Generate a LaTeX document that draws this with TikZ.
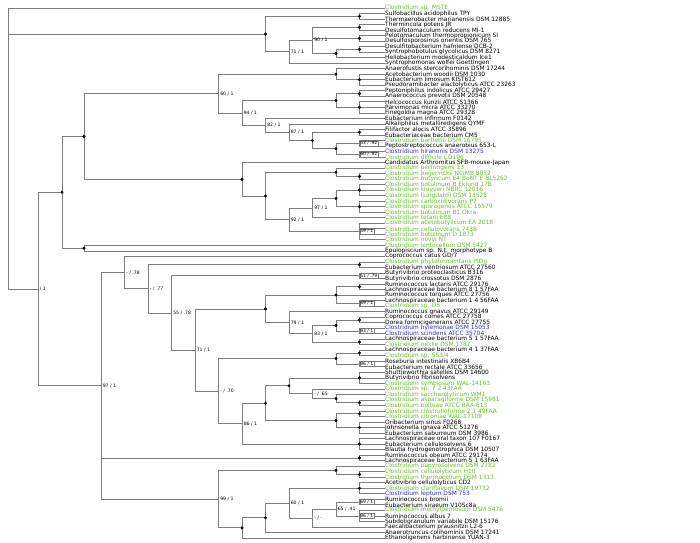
\documentclass[tikz,border=0pt]{standalone}
\usepackage{fontspec}
\setmainfont{DejaVu Sans}
\definecolor{clgreen}{RGB}{100,190,40}
\definecolor{clblue}{RGB}{45,45,200}
\definecolor{brgray}{RGB}{125,125,125}
\begin{document}
\begin{tikzpicture}[x=1pt,y=-1pt,
  lf/.style={anchor=west,inner sep=0pt,font=\fontsize{5.9}{6}\selectfont},
  g/.style={lf,text=clgreen},
  b/.style={lf,text=clblue},
  br/.style={draw=brgray,line width=0.7pt},
  dot/.style={circle,fill=black,inner sep=0pt,minimum size=3.4pt},
  sup/.style={anchor=west,inner sep=0pt,xshift=1.6pt,font=\fontsize{4.6}{5}\selectfont},
  bx/.style={anchor=west,draw=brgray,fill=white,line width=0.4pt,inner sep=0.7pt,font=\fontsize{4.4}{5}\selectfont}]
\useasboundingbox (0,0) rectangle (700,542);
% leaves
\node[g] (l1) at (385,8.00) {Clostridium sp. MSTE};
\node[lf] (l2) at (385,13.52) {Sulfobacillus acidophilus TPY};
\node[lf] (l3) at (385,19.04) {Thermaerobacter marianensis DSM 12885};
\node[lf] (l4) at (385,24.56) {Thermincola potens JR};
\node[lf] (l5) at (385,30.08) {Desulfotomaculum reducens MI-1};
\node[lf] (l6) at (385,35.60) {Pelotomaculum thermopropionicum SI};
\node[lf] (l7) at (385,41.12) {Desulfosporosinus orientis DSM 765};
\node[lf] (l8) at (385,46.64) {Desulfitobacterium hafniense DCB-2};
\node[lf] (l9) at (385,52.16) {Syntrophobotulus glycolicus DSM 8271};
\node[lf] (l10) at (385,57.68) {Heliobacterium modesticaldum Ice1};
\node[lf] (l11) at (385,63.20) {Syntrophomonas wolfei Goettingen};
\node[lf] (l12) at (385,68.72) {Anaerofustis stercorihominis DSM 17244};
\node[lf] (l13) at (385,74.24) {Acetobacterium woodii DSM 1030};
\node[lf] (l14) at (385,79.76) {Eubacterium limosum KIST612};
\node[lf] (l15) at (385,85.28) {Pseudoramibacter alactolyticus ATCC 23263};
\node[lf] (l16) at (385,90.80) {Peptoniphilus indolicus ATCC 29427};
\node[lf] (l17) at (385,96.32) {Anaerococcus prevotii DSM 20548};
\node[lf] (l18) at (385,101.84) {Helcococcus kunzii ATCC 51366};
\node[lf] (l19) at (385,107.36) {Parvimonas micra ATCC 33270};
\node[lf] (l20) at (385,112.88) {Finegoldia magna ATCC 29328};
\node[lf] (l21) at (385,118.40) {Eubacterium infirmum F0142};
\node[lf] (l22) at (385,123.92) {Alkaliphilus metalliredigens QYMF};
\node[lf] (l23) at (385,129.44) {Filifactor alocis ATCC 35896};
\node[lf] (l24) at (385,134.96) {Eubacteriaceae bacterium CM5};
\node[g] (l25) at (385,140.48) {Clostridium bartlettii DSM 16795};
\node[lf] (l26) at (385,146.00) {Peptostreptococcus anaerobius 653-L};
\node[b] (l27) at (385,151.52) {Clostridium hiranonis DSM 13275};
\node[g] (l28) at (385,157.04) {Clostridium difficile CD196};
\node[lf] (l29) at (385,162.56) {Candidatus Arthromitus SFB-mouse-Japan};
\node[g] (l30) at (385,168.08) {Clostridium perfringens 13};
\node[g] (l31) at (385,173.60) {Clostridium beijerinckii NCIMB 8052};
\node[g] (l32) at (385,179.12) {Clostridium butyricum E4 BoNT E BL5262};
\node[g] (l33) at (385,184.64) {Clostridium botulinum B Eklund 17B};
\node[g] (l34) at (385,190.16) {Clostridium kluyveri NBRC 12016};
\node[g] (l35) at (385,195.68) {Clostridium ljungdahlii DSM 13528};
\node[g] (l36) at (385,201.20) {Clostridium carboxidivorans P7};
\node[g] (l37) at (385,206.72) {Clostridium sporogenes ATCC 15579};
\node[g] (l38) at (385,212.24) {Clostridium botulinum B1 Okra};
\node[g] (l39) at (385,217.76) {Clostridium tetani E88};
\node[g] (l40) at (385,223.28) {Clostridium acetobutylicum EA 2018};
\node[g] (l41) at (385,228.80) {Clostridium cellulovorans 743B};
\node[g] (l42) at (385,234.32) {Clostridium botulinum D 1873};
\node[g] (l43) at (385,239.84) {Clostridium novyi NT};
\node[g] (l44) at (385,245.36) {Clostridium lentocellum DSM 5427};
\node[lf] (l45) at (385,250.88) {Epulopiscium sp. N.t. morphotype B};
\node[lf] (l46) at (385,256.40) {Coprococcus catus GD/7};
\node[g] (l47) at (385,261.92) {Clostridium phytofermentans ISDg};
\node[lf] (l48) at (385,267.44) {Eubacterium ventriosum ATCC 27560};
\node[lf] (l49) at (385,272.96) {Butyrivibrio proteoclasticus B316};
\node[lf] (l50) at (385,278.48) {Butyrivibrio crossotus DSM 2876};
\node[lf] (l51) at (385,284.00) {Ruminococcus lactaris ATCC 29176};
\node[lf] (l52) at (385,289.52) {Lachnospiraceae bacterium 8 1 57FAA};
\node[lf] (l53) at (385,295.04) {Ruminococcus torques ATCC 27756};
\node[lf] (l54) at (385,300.56) {Lachnospiraceae bacterium 1 4 56FAA};
\node[g] (l55) at (385,306.08) {Clostridium sp. D5};
\node[lf] (l56) at (385,311.60) {Ruminococcus gnavus ATCC 29149};
\node[lf] (l57) at (385,317.12) {Coprococcus comes ATCC 27758};
\node[lf] (l58) at (385,322.64) {Dorea formicigenerans ATCC 27755};
\node[b] (l59) at (385,328.16) {Clostridium hylemonae DSM 15053};
\node[b] (l60) at (385,333.68) {Clostridium scindens ATCC 35704};
\node[lf] (l61) at (385,339.20) {Lachnospiraceae bacterium 5 1 57FAA};
\node[g] (l62) at (385,344.72) {Clostridium nexile DSM 1787};
\node[lf] (l63) at (385,350.24) {Lachnospiraceae bacterium 4 1 37FAA};
\node[g] (l64) at (385,355.76) {Clostridium sp. SS3/4};
\node[lf] (l65) at (385,361.28) {Roseburia intestinalis XB6B4};
\node[lf] (l66) at (385,366.80) {Eubacterium rectale ATCC 33656};
\node[lf] (l67) at (385,372.32) {Shuttleworthia satelles DSM 14600};
\node[lf] (l68) at (385,377.84) {Butyrivibrio fibrisolvens};
\node[g] (l69) at (385,383.36) {Clostridium symbiosum WAL-14163};
\node[g] (l70) at (385,388.88) {Clostridium sp. 7 2 43FAA};
\node[g] (l71) at (385,394.40) {Clostridium saccharolyticum WM1};
\node[g] (l72) at (385,399.92) {Clostridium asparagiforme DSM 15981};
\node[g] (l73) at (385,405.44) {Clostridium bolteae ATCC BAA-613};
\node[g] (l74) at (385,410.96) {Clostridium clostridioforme 2 1 49FAA};
\node[g] (l75) at (385,416.48) {Clostridium citroniae WAL-17108};
\node[lf] (l76) at (385,422.00) {Oribacterium sinus F0268};
\node[lf] (l77) at (385,427.52) {Johnsonella ignava ATCC 51276};
\node[lf] (l78) at (385,433.04) {Eubacterium saburreum DSM 3986};
\node[lf] (l79) at (385,438.56) {Lachnospiraceae oral taxon 107 F0167};
\node[lf] (l80) at (385,444.08) {Eubacterium cellulosolvens 6};
\node[lf] (l81) at (385,449.60) {Blautia hydrogenotrophica DSM 10507};
\node[lf] (l82) at (385,455.12) {Ruminococcus obeum ATCC 29174};
\node[lf] (l83) at (385,460.64) {Lachnospiraceae bacterium 5 1 63FAA};
\node[g] (l84) at (385,466.16) {Clostridium papyrosolvens DSM 2782};
\node[g] (l85) at (385,471.68) {Clostridium cellulolyticum H10};
\node[g] (l86) at (385,477.20) {Clostridium thermocellum DSM 1313};
\node[lf] (l87) at (385,482.72) {Acetivibrio cellulolyticus CD2};
\node[g] (l88) at (385,488.24) {Clostridium clariflavum DSM 19732};
\node[b] (l89) at (385,493.76) {Clostridium leptum DSM 753};
\node[lf] (l90) at (385,499.28) {Ruminococcus bromii};
\node[lf] (l91) at (385,504.80) {Eubacterium siraeum V10Sc8a};
\node[g] (l92) at (385,510.32) {Clostridium methylpentosum DSM 5476};
\node[lf] (l93) at (385,515.84) {Ruminococcus albus 7};
\node[lf] (l94) at (385,521.36) {Subdoligranulum variabile DSM 15176};
\node[lf] (l95) at (385,526.88) {Faecalibacterium prausnitzii L2-6};
\node[lf] (l96) at (385,532.40) {Anaerotruncus colihominis DSM 17241};
\node[lf] (l97) at (385,537.92) {Ethanoligenens harbinense YUAN-3};
% inner nodes
\coordinate (root) at (8,148.53);
\coordinate (c23) at (359.5,16.28);
\coordinate (c45) at (359.5,27.32);
\coordinate (c67) at (359.5,38.36);
\coordinate (c89) at (359.5,49.40);
\coordinate (d2) at (336,53.54);
\coordinate (n90) at (312.5,40.43);
\coordinate (n71) at (289,51.82);
\coordinate (p1) at (265.5,34.05);
\coordinate (t13) at (359.5,79.76);
\coordinate (d73) at (336,74.24);
\coordinate (c16) at (359.5,93.56);
\coordinate (t18) at (359.5,107.36);
\coordinate (d97) at (336,100.46);
\coordinate (c23b) at (359.5,132.20);
\coordinate (b53) at (359.5,143.24);
\coordinate (b60) at (359.5,154.28);
\coordinate (d146) at (336,148.76);
\coordinate (d139) at (312.5,140.48);
\coordinate (n87) at (289,132.20);
\coordinate (n82) at (265.5,125.30);
\coordinate (n94) at (242,112.88);
\coordinate (n60a) at (218.5,93.56);
\coordinate (c31) at (359.5,176.36);
\coordinate (d172) at (336,172.22);
\coordinate (t33) at (359.5,190.16);
\coordinate (t36) at (359.5,206.72);
\coordinate (d201) at (336,198.44);
\coordinate (n97a) at (312.5,208.10);
\coordinate (b59) at (359.5,231.56);
\coordinate (n92) at (289,219.83);
\coordinate (d195) at (265.5,196.03);
\coordinate (a6) at (242,179.30);
\coordinate (z1) at (84,136.43);
\coordinate (z3) at (84,248.12);
\coordinate (z) at (62,192.28);
\coordinate (c47) at (359.5,264.68);
\coordinate (b51) at (359.5,275.72);
\coordinate (c51) at (359.5,286.76);
\coordinate (b69a) at (359.5,303.32);
\coordinate (d293) at (336,295.04);
\coordinate (c57) at (359.5,319.88);
\coordinate (b93) at (359.5,330.92);
\coordinate (d323) at (336,325.40);
\coordinate (c61) at (359.5,341.96);
\coordinate (n83) at (312.5,333.68);
\coordinate (n79) at (289,322.64);
\coordinate (d307) at (265.5,308.84);
\coordinate (c63) at (359.5,353.00);
\coordinate (b96a) at (359.5,364.04);
\coordinate (d358) at (336,358.52);
\coordinate (t67) at (359.5,377.84);
\coordinate (c72) at (359.5,402.68);
\coordinate (d401) at (336,398.54);
\coordinate (n65) at (312.5,393.71);
\coordinate (d388) at (289,385.78);
\coordinate (c74) at (359.5,413.72);
\coordinate (t76) at (359.5,427.52);
\coordinate (d421) at (336,420.62);
\coordinate (d405) at (265.5,403.20);
\coordinate (t79) at (359.5,444.08);
\coordinate (n86) at (242,423.64);
\coordinate (n70) at (218.5,391.08);
\coordinate (n71b) at (195,349.96);
\coordinate (n55) at (171.5,312.84);
\coordinate (n77) at (148,288.76);
\coordinate (n78) at (124.5,272.58);
\coordinate (c82) at (359.5,457.88);
\coordinate (c85) at (359.5,474.44);
\coordinate (d469) at (336,470.30);
\coordinate (t87) at (359.5,488.24);
\coordinate (b69b) at (359.5,502.04);
\coordinate (b96b) at (359.5,515.84);
\coordinate (n41) at (336,508.94);
\coordinate (nmm) at (312.5,517.91);
\coordinate (n60b) at (289,503.08);
\coordinate (d517) at (265.5,517.74);
\coordinate (d527) at (242,527.83);
\coordinate (n99) at (218.5,499.07);
\coordinate (n97b) at (101,385.83);
\coordinate (x) at (38,289.06);
% branches
\draw[br] (root) |- (l1.west) (root) |- (p1) (root) |- (x);
\draw[br] (p1) |- (c23) (p1) |- (n71);
\draw[br] (c23) |- (l2.west) (c23) |- (l3.west);
\draw[br] (n71) |- (n90) (n71) |- (l11.west);
\draw[br] (n90) |- (c45) (n90) |- (c67) (n90) |- (d2);
\draw[br] (c45) |- (l4.west) (c45) |- (l5.west);
\draw[br] (c67) |- (l6.west) (c67) |- (l7.west);
\draw[br] (d2) |- (c89) (d2) |- (l10.west);
\draw[br] (c89) |- (l8.west) (c89) |- (l9.west);
\draw[br] (x) |- (z) (x) |- (n97b);
\draw[br] (z) |- (z1) (z) |- (z3);
\draw[br] (z1) |- (n60a) (z1) |- (a6);
\draw[br] (z3) |- (l44.west) (z3) |- (l45.west);
\draw[br] (n60a) |- (d73) (n60a) |- (n94);
\draw[br] (d73) |- (l12.west) (d73) |- (t13);
\draw[br] (t13) |- (l13.west) (t13) |- (l14.west) (t13) |- (l15.west);
\draw[br] (n94) |- (d97) (n94) |- (n82);
\draw[br] (d97) |- (c16) (d97) |- (t18);
\draw[br] (c16) |- (l16.west) (c16) |- (l17.west);
\draw[br] (t18) |- (l18.west) (t18) |- (l19.west) (t18) |- (l20.west);
\draw[br] (n82) |- (l21.west) (n82) |- (n87);
\draw[br] (n87) |- (l22.west) (n87) |- (d139);
\draw[br] (d139) |- (c23b) (d139) |- (d146);
\draw[br] (c23b) |- (l23.west) (c23b) |- (l24.west);
\draw[br] (d146) |- (b53) (d146) |- (b60);
\draw[br] (b53) |- (l25.west) (b53) |- (l26.west);
\draw[br] (b60) |- (l27.west) (b60) |- (l28.west);
\draw[br] (a6) |- (l29.west) (a6) |- (d195);
\draw[br] (d195) |- (d172) (d195) |- (n92);
\draw[br] (d172) |- (l30.west) (d172) |- (c31);
\draw[br] (c31) |- (l31.west) (c31) |- (l32.west);
\draw[br] (n92) |- (n97a) (n92) |- (b59);
\draw[br] (n97a) |- (d201) (n97a) |- (l39.west);
\draw[br] (d201) |- (t33) (d201) |- (t36);
\draw[br] (t33) |- (l33.west) (t33) |- (l34.west) (t33) |- (l35.west);
\draw[br] (t36) |- (l36.west) (t36) |- (l37.west) (t36) |- (l38.west);
\draw[br] (b59) |- (l40.west) (b59) |- (l41.west) (b59) |- (l42.west) (b59) |- (l43.west);
\draw[br] (n97b) |- (n78) (n97b) |- (c82) (n97b) |- (n99);
\draw[br] (n78) |- (l46.west) (n78) |- (n77);
\draw[br] (n77) |- (c47) (n77) |- (n55);
\draw[br] (c47) |- (l47.west) (c47) |- (l48.west);
\draw[br] (n55) |- (b51) (n55) |- (n71b);
\draw[br] (b51) |- (l49.west) (b51) |- (l50.west);
\draw[br] (n71b) |- (d307) (n71b) |- (n70);
\draw[br] (d307) |- (d293) (d307) |- (n79);
\draw[br] (d293) |- (c51) (d293) |- (l53.west) (d293) |- (b69a);
\draw[br] (c51) |- (l51.west) (c51) |- (l52.west);
\draw[br] (b69a) |- (l54.west) (b69a) |- (l55.west);
\draw[br] (n79) |- (l56.west) (n79) |- (n83);
\draw[br] (n83) |- (d323) (n83) |- (c61);
\draw[br] (d323) |- (c57) (d323) |- (b93);
\draw[br] (c57) |- (l57.west) (c57) |- (l58.west);
\draw[br] (b93) |- (l59.west) (b93) |- (l60.west);
\draw[br] (c61) |- (l61.west) (c61) |- (l62.west);
\draw[br] (n70) |- (d358) (n70) |- (n86);
\draw[br] (d358) |- (c63) (d358) |- (b96a);
\draw[br] (c63) |- (l63.west) (c63) |- (l64.west);
\draw[br] (b96a) |- (l65.west) (b96a) |- (l66.west);
\draw[br] (n86) |- (d405) (n86) |- (t79);
\draw[br] (d405) |- (d388) (d405) |- (d421);
\draw[br] (d388) |- (t67) (d388) |- (n65);
\draw[br] (t67) |- (l67.west) (t67) |- (l68.west) (t67) |- (l69.west);
\draw[br] (n65) |- (l70.west) (n65) |- (d401);
\draw[br] (d401) |- (l71.west) (d401) |- (c72);
\draw[br] (c72) |- (l72.west) (c72) |- (l73.west);
\draw[br] (d421) |- (c74) (d421) |- (t76);
\draw[br] (c74) |- (l74.west) (c74) |- (l75.west);
\draw[br] (t76) |- (l76.west) (t76) |- (l77.west) (t76) |- (l78.west);
\draw[br] (t79) |- (l79.west) (t79) |- (l80.west) (t79) |- (l81.west);
\draw[br] (c82) |- (l82.west) (c82) |- (l83.west);
\draw[br] (n99) |- (d469) (n99) |- (d527);
\draw[br] (d469) |- (l84.west) (d469) |- (c85);
\draw[br] (c85) |- (l85.west) (c85) |- (l86.west);
\draw[br] (d527) |- (d517) (d527) |- (l97.west);
\draw[br] (d517) |- (n60b) (d517) |- (l96.west);
\draw[br] (n60b) |- (t87) (n60b) |- (nmm);
\draw[br] (t87) |- (l87.west) (t87) |- (l88.west) (t87) |- (l89.west);
\draw[br] (nmm) |- (n41) (nmm) |- (l95.west);
\draw[br] (n41) |- (b69b) (n41) |- (b96b);
\draw[br] (b69b) |- (l90.west) (b69b) |- (l91.west);
\draw[br] (b96b) |- (l92.west) (b96b) |- (l93.west) (b96b) |- (l94.west);
% fully supported nodes
\foreach \n in {p1,c23,c45,c67,c89,d2,z,z1,z3,d73,t13,d97,c16,t18,c23b,d146,d139,a6,d195,d172,c31,d201,t33,t36,c47,c51,d293,d307,c57,d323,c61,c63,d358,t67,d401,c72,d388,c74,t76,d421,d405,t79,c82,d469,c85,t87,d517,d527}
  \node[dot] at (\n) {};
% support values
\node[sup] at (n90) {90 / 1};
\node[sup] at (n71) {71 / 1};
\node[sup] at (x) {/ 1};
\node[sup] at (n60a) {60 / 1};
\node[sup] at (n94) {94 / 1};
\node[sup] at (n82) {82 / 1};
\node[sup] at (n87) {87 / 1};
\node[sup] at (n97a) {97 / 1};
\node[sup] at (n92) {92 / 1};
\node[sup] at (n97b) {97 / 1};
\node[sup] at (n78) {- / .78};
\node[sup] at (n77) {- / .77};
\node[sup] at (n55) {55 / .78};
\node[sup] at (n71b) {71 / 1};
\node[sup] at (n83) {83 / 1};
\node[sup] at (n79) {79 / 1};
\node[sup] at (n65) {- / .65};
\node[sup] at (n70) {- / .70};
\node[sup] at (n86) {86 / 1};
\node[sup] at (n99) {99 / 1};
\node[sup] at (n60b) {60 / 1};
\node[sup] at (nmm) {- / -};
\node[sup] at (n41) {65 / .41};
\node[bx] at (b53) {53 / .92};
\node[bx] at (b60) {60 / .92};
\node[bx] at (b59) {59 / 1};
\node[bx] at (b51) {51 / .79};
\node[bx] at (b69a) {69 / 1};
\node[bx] at (b93) {93 / 1};
\node[bx] at (b96a) {96 / 1};
\node[bx] at (b69b) {69 / 1};
\node[bx] at (b96b) {96 / 1};
\end{tikzpicture}
\end{document}
